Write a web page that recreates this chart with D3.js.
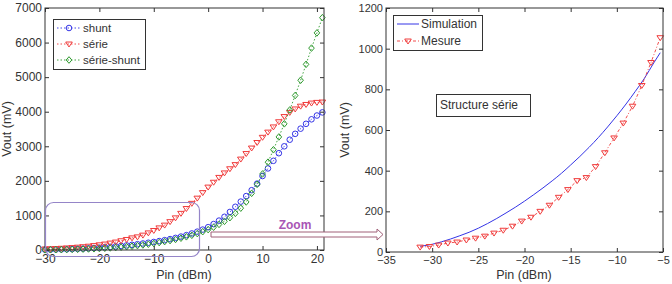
<!DOCTYPE html>
<html>
<head>
<meta charset="utf-8">
<script src="https://cdn.jsdelivr.net/npm/d3@7"></script>
<style>
  body { margin: 0; background: #fff; }
  svg { font-family: "Liberation Sans", Arial, sans-serif; }
</style>
</head>
<body>
<div id="chart"></div>
<script>
// left panel: Pin (dBm) vs Vout (mV)
var pinLeft = [-30, -29, -28, -27, -26, -25, -24, -23, -22, -21, -20, -19, -18, -17, -16, -15, -14, -13, -12, -11,
  -10, -9, -8, -7, -6, -5, -4, -3, -2, -1, 0, 1, 2, 3, 4, 5, 6, 7, 8, 9, 10, 11, 12, 13, 14, 15, 16, 17, 18, 19, 20, 21];
var shunt = [10, 12, 15, 18, 22, 27, 33, 40, 48, 57, 67, 78, 90, 104, 118, 134, 150, 168, 188, 210,
  232, 258, 285, 315, 350, 388, 430, 478, 530, 590, 660, 750, 850, 960, 1100, 1250, 1400, 1560, 1730, 1920,
  2140, 2360, 2580, 2800, 3000, 3190, 3360, 3510, 3650, 3780, 3890, 3980];
var serie = [30, 35, 42, 50, 60, 70, 82, 95, 110, 128, 150, 172, 200, 230, 268, 305, 350, 380, 430, 495,
  565, 640, 720, 820, 930, 1060, 1200, 1350, 1500, 1660, 1820, 1960, 2100, 2230, 2350, 2470, 2630, 2790, 2950, 3110,
  3260, 3410, 3560, 3710, 3860, 3980, 4080, 4160, 4210, 4250, 4270, 4280];
var serieShunt = [5, 7, 9, 11, 14, 17, 21, 25, 30, 36, 43, 51, 60, 70, 82, 95, 110, 127, 146, 167,
  190, 215, 243, 273, 306, 342, 382, 426, 475, 530, 590, 660, 740, 830, 935, 1060, 1210, 1390, 1640, 1900,
  2200, 2540, 2900, 3270, 3650, 4050, 4470, 4910, 5370, 5840, 6280, 6720];
var leftXTicks = [-30, -20, -10, 0, 10, 20];
var leftYTicks = [0, 1000, 2000, 3000, 4000, 5000, 6000, 7000];

// right panel: zoom on the série structure
var pinSim = [-31.3, -30, -29, -28, -27, -26, -25, -24, -23, -22, -21, -20, -19, -18, -17, -16, -15, -14, -13,
  -12, -11, -10, -9, -8, -7, -6, -5.3];
var simulation = [28, 38, 50, 64, 80, 97, 117, 140, 165, 192, 220, 250, 282, 315, 350, 387, 428, 470, 515,
  563, 615, 670, 728, 790, 855, 930, 980];
var pinMes = [-31.3, -30.3, -29.3, -28.3, -27.3, -26.3, -25.3, -24.3, -23.3, -22.3, -21.3, -20.3, -19.3, -18.3,
  -17.3, -16.3, -15.3, -14.3, -13.3, -12.3, -11.3, -10.3, -9.3, -8.3, -7.3, -6.3, -5.3];
var mesure = [24, 27, 34, 44, 49, 59, 68, 78, 93, 107, 127, 152, 171, 200, 230, 269, 307, 351, 366, 420,
  488, 561, 634, 717, 819, 932, 1054];
var rightXTicks = [-35, -30, -25, -20, -15, -10, -5];
var rightYTicks = [0, 200, 400, 600, 800, 1000, 1200];

var blue = "#3434e6", red = "#f03a3a", green = "#2f9a2f", axisColor = "#333", textColor = "#333";

var svg = d3.select("#chart").append("svg")
  .attr("width", 672)
  .attr("height", 284);

// MATLAB style box axes with inward ticks on all four sides
function drawAxes(x, y, xTicks, yTicks, fontSize) {
  var x0 = x.range()[0], x1 = x.range()[1], y0 = y.range()[0], y1 = y.range()[1];
  var g = svg.append("g");
  g.append("rect")
    .attr("x", x0).attr("y", y1)
    .attr("width", x1 - x0).attr("height", y0 - y1)
    .attr("fill", "none").attr("stroke", axisColor).attr("stroke-width", 1);

  var fmt = d3.format("d");
  var bottom = g.append("g").attr("transform", "translate(0," + y0 + ")")
    .call(d3.axisBottom(x).tickValues(xTicks).tickFormat(fmt).tickSizeInner(-4).tickSizeOuter(0).tickPadding(4));
  var top = g.append("g").attr("transform", "translate(0," + y1 + ")")
    .call(d3.axisTop(x).tickValues(xTicks).tickSizeInner(-4).tickSizeOuter(0).tickFormat(""));
  var left = g.append("g").attr("transform", "translate(" + x0 + ",0)")
    .call(d3.axisLeft(y).tickValues(yTicks).tickFormat(fmt).tickSizeInner(-4).tickSizeOuter(0).tickPadding(3));
  var right = g.append("g").attr("transform", "translate(" + x1 + ",0)")
    .call(d3.axisRight(y).tickValues(yTicks).tickSizeInner(-4).tickSizeOuter(0).tickFormat(""));

  [bottom, top, left, right].forEach(function(a) {
    a.select(".domain").remove();
    a.selectAll("line").attr("stroke", axisColor);
    a.selectAll("text").attr("fill", textColor).attr("font-size", fontSize)
      .attr("font-family", "Liberation Sans, Arial, sans-serif");
  });
}

function triangleDown(s) {
  return "M" + (-s) + "," + (-s * 0.6) + "L" + s + "," + (-s * 0.6) + "L0," + (s * 0.9) + "Z";
}

function marker(g, kind, color) {
  if (kind === "circle") {
    g.append("circle").attr("r", 2.8).attr("fill", "none").attr("stroke", color).attr("stroke-width", 1);
  } else if (kind === "tri") {
    g.append("path").attr("d", triangleDown(3.3)).attr("fill", "none").attr("stroke", color).attr("stroke-width", 1);
  } else {
    g.append("path").attr("d", "M0,-3.3L2.8,0L0,3.3L-2.8,0Z").attr("fill", "none").attr("stroke", color).attr("stroke-width", 1);
  }
}

// ---------- left panel ----------
var xL = d3.scaleLinear().domain([-30, 21.3]).range([45, 324]);
var yL = d3.scaleLinear().domain([0, 7000]).range([250, 8]);

svg.append("clipPath").attr("id", "clipL").append("rect")
  .attr("x", 40).attr("y", 4).attr("width", 288).attr("height", 250);

var leftSeries = [
  {name: "shunt", values: shunt, color: blue, kind: "circle"},
  {name: "série", values: serie, color: red, kind: "tri"},
  {name: "série-shunt", values: serieShunt, color: green, kind: "diamond"}
];

leftSeries.forEach(function(s) {
  var pts = pinLeft.map(function(p, i) { return [p, s.values[i]]; });
  var g = svg.append("g").attr("clip-path", "url(#clipL)");
  g.append("path")
    .datum(pts)
    .attr("fill", "none")
    .attr("stroke", s.color)
    .attr("stroke-width", 0.9)
    .attr("stroke-dasharray", "1.5,2")
    .attr("d", d3.line().x(function(d) { return xL(d[0]); }).y(function(d) { return yL(d[1]); }));
  g.selectAll(".m").data(pts).enter().append("g")
    .attr("transform", function(d) { return "translate(" + xL(d[0]) + "," + yL(d[1]) + ")"; })
    .each(function() { marker(d3.select(this), s.kind, s.color); });
});

drawAxes(xL, yL, leftXTicks, leftYTicks, 12);

// legend left
var legL = svg.append("g");
legL.append("rect").attr("x", 53.5).attr("y", 19.5).attr("width", 92).attr("height", 50)
  .attr("fill", "#fff").attr("stroke", axisColor);
leftSeries.forEach(function(s, i) {
  var yy = 28 + i * 16;
  legL.append("line").attr("x1", 57).attr("x2", 81).attr("y1", yy).attr("y2", yy)
    .attr("stroke", s.color).attr("stroke-width", 0.9).attr("stroke-dasharray", "1.5,2");
  marker(legL.append("g").attr("transform", "translate(69," + yy + ")"), s.kind, s.color);
  legL.append("text").attr("x", 83).attr("y", yy + 4).attr("font-size", 11.5).attr("fill", textColor).text(s.name);
});

svg.append("text").attr("x", 184).attr("y", 279).attr("text-anchor", "middle")
  .attr("font-size", 12.5).attr("fill", textColor).text("Pin (dBm)");
svg.append("text").attr("transform", "translate(11,129) rotate(-90)").attr("text-anchor", "middle")
  .attr("font-size", 12.5).attr("fill", textColor).text("Vout (mV)");

// zoom rectangle and arrow
svg.append("rect").attr("x", 45.5).attr("y", 202.5).attr("width", 154).attr("height", 54)
  .attr("rx", 8).attr("ry", 8).attr("fill", "none").attr("stroke", "#9585c8").attr("stroke-width", 1.2);

svg.append("path")
  .attr("d", "M211,232L377,232L377,229L383,234.5L377,240L377,237L211,237Z")
  .attr("fill", "#fff").attr("stroke", "#a06078").attr("stroke-width", 1);
svg.append("text").attr("x", 295).attr("y", 229).attr("text-anchor", "middle")
  .attr("font-size", 12).attr("font-weight", "bold").attr("fill", "#a855b5").text("Zoom");

// ---------- right panel ----------
var xR = d3.scaleLinear().domain([-35, -5]).range([386, 663]);
var yR = d3.scaleLinear().domain([0, 1200]).range([252, 8]);

svg.append("path")
  .datum(pinSim.map(function(p, i) { return [p, simulation[i]]; }))
  .attr("fill", "none").attr("stroke", blue).attr("stroke-width", 1)
  .attr("d", d3.line().curve(d3.curveMonotoneX)
    .x(function(d) { return xR(d[0]); }).y(function(d) { return yR(d[1]); }));

var mesPts = pinMes.map(function(p, i) { return [p, mesure[i]]; });
svg.append("path")
  .datum(mesPts)
  .attr("fill", "none").attr("stroke", red).attr("stroke-width", 0.9)
  .attr("stroke-dasharray", "3,2,1,2")
  .attr("d", d3.line().x(function(d) { return xR(d[0]); }).y(function(d) { return yR(d[1]); }));
svg.selectAll(".mes").data(mesPts).enter().append("g")
  .attr("transform", function(d) { return "translate(" + xR(d[0]) + "," + yR(d[1]) + ")"; })
  .each(function() { marker(d3.select(this), "tri", red); });

drawAxes(xR, yR, rightXTicks, rightYTicks, 11);

// legend right
var legR = svg.append("g");
legR.append("rect").attr("x", 393.5).attr("y", 15.5).attr("width", 89).attr("height", 35)
  .attr("fill", "#fff").attr("stroke", axisColor);
legR.append("line").attr("x1", 397).attr("x2", 419).attr("y1", 24).attr("y2", 24)
  .attr("stroke", blue).attr("stroke-width", 1);
legR.append("text").attr("x", 421).attr("y", 28).attr("font-size", 12).attr("fill", textColor).text("Simulation");
legR.append("line").attr("x1", 397).attr("x2", 419).attr("y1", 41).attr("y2", 41)
  .attr("stroke", red).attr("stroke-width", 0.9).attr("stroke-dasharray", "3,2,1,2");
marker(legR.append("g").attr("transform", "translate(408,41)"), "tri", red);
legR.append("text").attr("x", 421).attr("y", 45).attr("font-size", 12).attr("fill", textColor).text("Mesure");

// annotation box
svg.append("rect").attr("x", 436.5).attr("y", 94.5).attr("width", 94).attr("height", 22)
  .attr("fill", "#fff").attr("stroke", axisColor);
svg.append("text").attr("x", 440).attr("y", 109).attr("font-size", 12).attr("fill", textColor).text("Structure série");

svg.append("text").attr("x", 524).attr("y", 279).attr("text-anchor", "middle")
  .attr("font-size", 12.5).attr("fill", textColor).text("Pin (dBm)");
svg.append("text").attr("transform", "translate(349,130) rotate(-90)").attr("text-anchor", "middle")
  .attr("font-size", 12.5).attr("fill", textColor).text("Vout (mV)");
</script>
</body>
</html>
